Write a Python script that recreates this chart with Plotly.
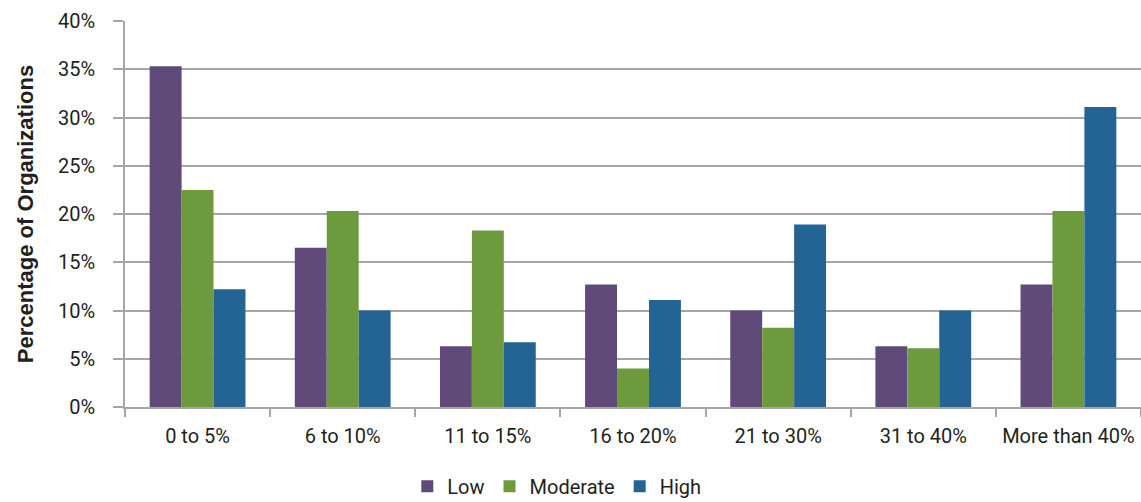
import plotly.graph_objects as go

categories = ["0 to 5%", "6 to 10%", "11 to 15%", "16 to 20%", "21 to 30%", "31 to 40%", "More than 40%"]
low = [35.3, 16.5, 6.3, 12.7, 10.0, 6.3, 12.7]
moderate = [22.5, 20.3, 18.3, 4.0, 8.2, 6.1, 20.3]
high = [12.2, 10.0, 6.7, 11.1, 18.9, 10.0, 31.1]
series_names = ["Low", "Moderate", "High"]
colors = ["#5F4A7A", "#6E9A3E", "#236494"]

font_main = "Roboto, Liberation Sans, sans-serif"

fig = go.Figure()
for name, vals, col in zip(series_names, [low, moderate, high], colors):
    fig.add_trace(go.Bar(
        x=categories, y=vals, name=name,
        marker=dict(color=col, line=dict(width=0)),
    ))

fig.update_layout(
    width=1141, height=502,
    margin=dict(l=125, r=0, t=21, b=95, autoexpand=False),
    paper_bgcolor="white", plot_bgcolor="white",
    barmode="group", bargap=0.34, bargroupgap=0,
    font=dict(family=font_main, size=20, color="#231F20"),
    showlegend=True,
    legend=dict(
        orientation="h", x=0.425, xanchor="center", y=-0.205, yanchor="middle",
        font=dict(family=font_main, size=20, color="#231F20"),
        itemwidth=30, traceorder="normal",
    ),
    xaxis=dict(
        showline=True, linecolor="#A6A6A6", linewidth=1.5,
        ticks="outside", tickson="boundaries", ticklen=8, tickcolor="#A6A6A6", tickwidth=1.5,
        showgrid=False, ticklabelstandoff=10,
        tickfont=dict(family=font_main, size=20, color="#231F20"),
    ),
    yaxis=dict(
        range=[0, 40], dtick=5, ticksuffix="%",
        showline=True, linecolor="#A6A6A6", linewidth=1.5,
        ticks="outside", ticklen=10, tickcolor="#A6A6A6", tickwidth=1.5,
        showgrid=True, gridcolor="#A6A6A6", gridwidth=1.5,
        zeroline=False, ticklabelstandoff=14,
        tickfont=dict(family=font_main, size=20, color="#231F20"),
        title=dict(text="Percentage of Organizations", standoff=18,
                   font=dict(family="Liberation Sans, Arial, sans-serif", size=22, color="#231F20", weight="bold")),
    ),
)

fig.write_html("out.html")
